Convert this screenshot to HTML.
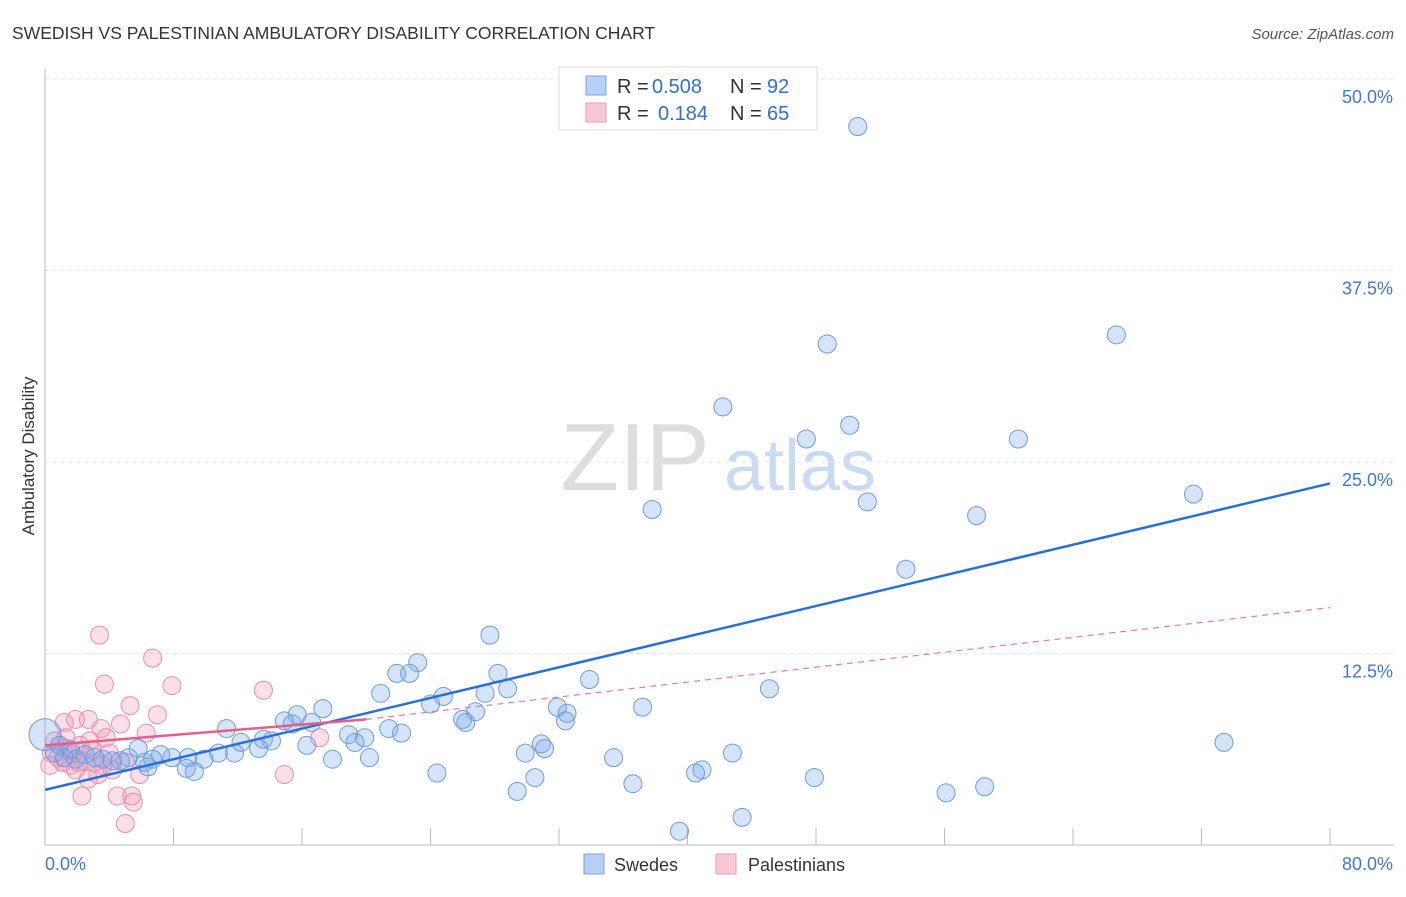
<!DOCTYPE html>
<html><head><meta charset="utf-8"><style>
body{margin:0;background:#fff;font-family:"Liberation Sans",sans-serif;}
svg text{font-family:"Liberation Sans",sans-serif;}
</style></head><body>
<svg id="chart" width="1406" height="892" xmlns="http://www.w3.org/2000/svg">
<text x="12" y="39" font-size="17.5" fill="#333">SWEDISH VS PALESTINIAN AMBULATORY DISABILITY CORRELATION CHART</text>
<text x="1394" y="39" font-size="15" fill="#555" text-anchor="end" font-style="italic">Source: ZipAtlas.com</text>
<text transform="translate(34,456) rotate(-90)" font-size="17" fill="#333" text-anchor="middle">Ambulatory Disability</text>
<g><text x="635" y="490" font-size="96" fill="#ddd" text-anchor="middle" font-family="Liberation Serif">ZIP</text><text x="800" y="490" font-size="72" fill="#c9daf3" text-anchor="middle">atlas</text></g>
<g id="grid"></g><g id="axes"></g><g id="pink"></g><g id="blue"></g><g id="lines"></g>
<g>
<rect x="559" y="67" width="258" height="63" fill="#fff" stroke="#ddd"/>
<rect x="586" y="76" width="20" height="19" fill="#b8d0f3" stroke="#7aa4e4"/>
<text x="617" y="93" font-size="20" fill="#333">R =</text>
<text x="652" y="93" font-size="20" fill="#2f6fd6">0.508</text>
<text x="730" y="93" font-size="20" fill="#333">N =</text>
<text x="767" y="93" font-size="20" fill="#2f6fd6">92</text>
<rect x="586" y="103" width="20" height="19" fill="#f9c8d6" stroke="#eb9ab4"/>
<text x="617" y="120" font-size="20" fill="#333">R =</text>
<text x="658" y="120" font-size="20" fill="#2f6fd6">0.184</text>
<text x="730" y="120" font-size="20" fill="#333">N =</text>
<text x="767" y="120" font-size="20" fill="#2f6fd6">65</text>
</g>
<g>
<rect x="584" y="854" width="20" height="20" fill="#b8d0f3" stroke="#7aa4e4"/>
<text x="614" y="871" font-size="18" fill="#333">Swedes</text>
<rect x="716" y="854" width="20" height="20" fill="#f9c8d6" stroke="#eb9ab4"/>
<text x="748" y="871" font-size="18" fill="#333">Palestinians</text>
</g>
</svg>
<script>
const xTicks=[0,8,16,24,32,40,48,56,64,72,80];
const yTicks=[12.5,25,37.5,50];
const yTickLabels=["12.5%","25.0%","37.5%","50.0%"];
const blueX=[50.6,48.7,66.7,42.2,47.4,50.1,60.6,37.8,51.2,58,71.5,53.6,21.9,27.7,23.2,22.7,28.2,33.9,28.8,20.9,24.8,27.4,45.1,17.3,15.7,24,31.9,37.2,26.8,26,26.2,32.5,32.4,11.3,14.9,15.4,16.6,21.4,22.2,18.9,19.9,19.3,16.3,30.9,31.1,29.9,42.8,35.4,17.9,20.2,13.6,14.1,12.2,13.3,11.8,10.8,9.9,8.9,7.9,7.2,6.7,5.8,5.2,4.2,3.6,8.8,9.3,6.2,24.4,40.9,40.5,47.9,30.5,36.6,29.4,56.1,58.5,43.4,39.5,73.4,0,0.9,1.6,2.5,3.1,1.9,0.6,1.2,4.7,6.4];
const blueY=[46.9,32.7,33.3,28.6,26.5,27.4,26.5,21.9,22.4,21.5,22.9,18,11.2,13.7,11.9,11.2,11.2,10.8,10.2,9.9,9.7,9.9,10.2,8.9,8.5,9.2,9,9,8.7,8.2,8,8.6,8.1,7.6,8.1,7.9,8,7.6,7.3,7.2,7,6.7,6.5,6.6,6.3,6,6,5.7,5.6,5.7,6.9,6.8,6.7,6.3,6,6,5.6,5.7,5.7,5.9,5.6,6.3,5.7,5.5,5.6,5,4.8,5.4,4.7,4.9,4.7,4.4,4.4,4,3.5,3.4,3.8,1.8,0.9,6.7,7.2,6.5,6.2,5.9,5.7,5.6,6,5.7,5.5,5.1];
const pinkX=[3.4,6.7,3.7,7.9,13.6,5.3,7,1.9,2.7,3.5,4.7,6.3,1.2,3.8,2.8,17.1,2.2,1.4,0.4,0.8,1.1,1.7,2.4,3.1,4,5,5.9,3.3,1.9,2.7,14.9,4.5,2.3,5.4,5.5,5,0.3,0.9,1.6,0.6,1.3,2.1,3.6,4.2,2.9];
const pinkY=[13.7,12.2,10.5,10.4,10.1,9.1,8.5,8.2,8.2,7.6,7.9,7.3,8,7,6.8,7,6.5,6.3,6,5.7,5.4,5.9,5.5,5.4,6,5.4,4.6,4.6,4.9,4.3,4.6,3.2,3.2,3.2,2.8,1.4,5.2,6.5,5.2,6.8,7,5.4,5.2,4.9,6.2];
const blueTrend=[3.6,23.6], pinkTrend=[6.5,8.2,15.5];
const X=v=>45+v*(1285/80), Y=v=>845-v*(766/50);
const NS="http://www.w3.org/2000/svg";
function mk(p,t,a){const e=document.createElementNS(NS,t);for(const k in a)e.setAttribute(k,a[k]);document.getElementById(p).appendChild(e);return e;}
yTicks.forEach((v,i)=>{
 const l=mk('grid','line',{x1:45,x2:1394,y1:Y(v),y2:Y(v),stroke:'#e3e3e3','stroke-dasharray':'4,4'});
 
 
 const t=mk('grid','text',{x:1393,y:Y(v)+24,'font-size':18,fill:'#3f76d4','text-anchor':'end'});t.textContent=yTickLabels[i];
 
 
});
const ax=mk('axes','path',{d:'M45,68 V845 H1394',stroke:'#bbb',fill:'none'});


xTicks.forEach(v=>{const l=mk('axes','line',{x1:X(v),x2:X(v),y1:828,y2:845,stroke:'#bbb'});
 
 });
const t0=mk('axes','text',{x:45,y:870,'font-size':18,fill:'#3f76d4'});t0.textContent='0.0%';


const t1=mk('axes','text',{x:1393,y:870,'font-size':18,fill:'#3f76d4','text-anchor':'end'});t1.textContent='80.0%';


pinkX.forEach((v,i)=>{const c=mk('pink','circle',{cx:X(v),cy:Y(pinkY[i]),r:9,fill:'rgba(244,150,180,0.3)',stroke:'#e98fac','stroke-width':1});
 
 });
blueX.forEach((v,i)=>{const c=mk('blue','circle',{cx:X(v),cy:Y(blueY[i]),r:i==80?16:9,fill:'rgba(120,165,235,0.3)',stroke:'#6f9be0','stroke-width':1});
 
 });
const bl=mk('lines','line',{x1:X(0),y1:Y(blueTrend[0]),x2:X(80),y2:Y(blueTrend[1]),stroke:'#2a6fd8','stroke-width':2.5});


const pd=mk('lines','line',{x1:X(20),y1:Y(pinkTrend[1]),x2:X(80),y2:Y(pinkTrend[2]),stroke:'#e8799c','stroke-width':1.2,'stroke-dasharray':'6,5'});


const pl=mk('lines','line',{x1:X(0),y1:Y(pinkTrend[0]),x2:X(20),y2:Y(pinkTrend[1]),stroke:'#e65f8b','stroke-width':2.5});


</script>
</body></html>
